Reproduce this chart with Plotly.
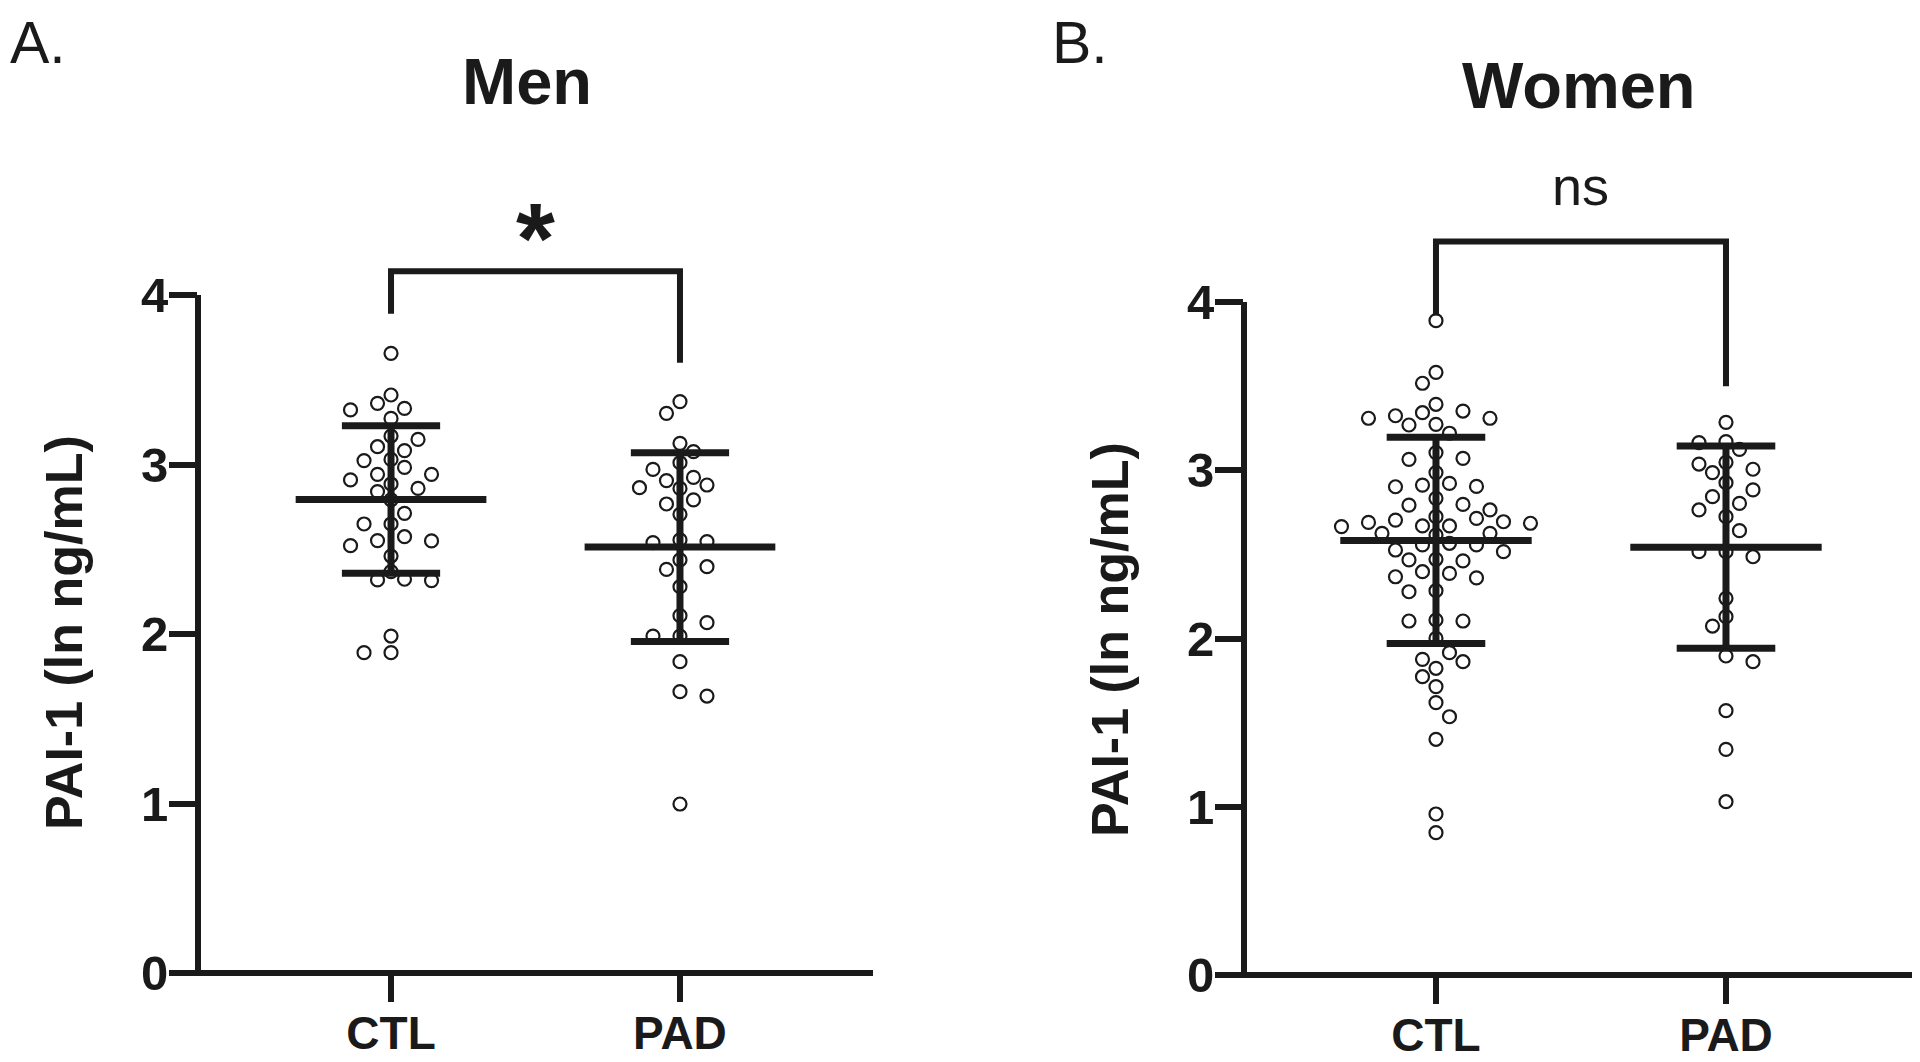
import numpy as np
import plotly.graph_objects as go

# ---------------- data ----------------
categories = ["CTL", "PAD"]
y_ticks = [0, 1, 2, 3, 4]

men_ctl = [3.656, 3.410, 3.331, 3.361, 3.322, 3.272, 3.148, 3.168, 3.105, 3.082,
           3.023, 3.030, 2.983, 2.942, 2.942, 2.909, 2.885, 2.859, 2.840, 2.791,
           2.712, 2.649, 2.649, 2.551, 2.549, 2.574, 2.521, 2.460, 2.368, 2.315,
           2.323, 2.319, 1.988, 1.890, 1.890]
men_pad = [3.371, 3.302, 3.125, 3.076, 3.011, 2.971, 2.924, 2.905, 2.863, 2.879,
           2.859, 2.791, 2.767, 2.706, 2.555, 2.539, 2.545, 2.437, 2.397, 2.381,
           2.279, 2.108, 2.067, 1.988, 1.988, 1.837, 1.660, 1.634, 0.997]
women_ctl = [3.889, 3.582, 3.517, 3.392, 3.342, 3.324, 3.309, 3.309, 3.352, 3.269,
             3.273, 3.220, 3.105, 3.065, 3.071, 2.986, 2.912, 2.902, 2.922, 2.904,
             2.833, 2.797, 2.793, 2.764, 2.724, 2.690, 2.704, 2.694, 2.669, 2.669,
             2.665, 2.685, 2.714, 2.625, 2.625, 2.615, 2.556, 2.566, 2.516, 2.526,
             2.556, 2.461, 2.467, 2.471, 2.397, 2.387, 2.367, 2.360, 2.284, 2.278,
             2.104, 2.104, 2.110, 2.001, 1.916, 1.876, 1.862, 1.823, 1.773, 1.714,
             1.619, 1.535, 1.401, 0.957, 0.846]
women_pad = [3.285, 3.170, 3.164, 3.124, 3.047, 3.037, 3.006, 2.986, 2.926, 2.883,
             2.843, 2.764, 2.803, 2.724, 2.641, 2.516, 2.486, 2.516, 2.239, 2.130,
             2.074, 1.896, 1.862, 1.571, 1.341, 1.030]

# mean and SD as drawn (CTL, PAD)
men_mean = [2.793, 2.513]
men_sd = [0.435, 0.557]
women_mean = [2.583, 2.543]
women_sd = [0.613, 0.601]

# significance brackets: top level, leg ends (CTL, PAD), label, label level
men_bracket_top = 4.14
men_bracket_ends = [3.89, 3.60]
men_sig = "*"
men_sig_level = 4.335
women_bracket_top = 4.36
women_bracket_ends = [3.92, 3.50]
women_sig = "ns"
women_sig_level = 4.69

y_title = "PAI-1 (ln ng/mL)"

# ---------------- style / layout ----------------
# page body has an 8px margin: design in screen pixels, convert to figure pixels
OFF = 8
W, H = 1920 - OFF, 1062 - OFF
INK = "#1a1a1a"
FONT = "Liberation Sans, Arial, Helvetica, sans-serif"
LW = 6


def fx(sx):
    return (sx - OFF) / W


def fy(sy):
    return 1 - (sy - OFF) / H


panels = [
    dict(title="Men", letter="A.", groups=[men_ctl, men_pad], mean=men_mean, sd=men_sd,
         top=men_bracket_top, ends=men_bracket_ends, sig=men_sig, sig_level=men_sig_level,
         sig_size=100, sig_bold=True,
         xpx=(198, 873), ypx=(973, 193.3), xr=(0.332, 2.668), yr=(0, 4.6),
         title_xy=(527, 82), letter_xy=(8, 8), ytitle_xy=(64, 633)),
    dict(title="Women", letter="B.", groups=[women_ctl, women_pad], mean=women_mean, sd=women_sd,
         top=women_bracket_top, ends=women_bracket_ends, sig=women_sig, sig_level=women_sig_level,
         sig_size=54, sig_bold=False,
         xpx=(1244, 1920), ypx=(975, 159), xr=(0.338, 2.669), yr=(0, 4.85),
         title_xy=(1579, 86), letter_xy=(1049.5, 8), ytitle_xy=(1110, 640)),
]


def swarm_offsets(vals, px_per_x, px_per_y, step_px=13.5, d_px=15.5):
    vals = np.asarray(vals, dtype=float)
    order = np.argsort(-vals, kind="stable")
    placed = []
    offs = np.zeros(len(vals))
    nl = nr = 0
    for i in order:
        y = vals[i] * px_per_y
        k = 0
        chosen = None
        while chosen is None:
            if k == 0:
                cands = [0.0]
            else:
                cands = [-k * step_px, k * step_px] if nl <= nr else [k * step_px, -k * step_px]
            for c in cands:
                if all((c - px) ** 2 + (y - py) ** 2 >= d_px ** 2 for px, py in placed):
                    chosen = c
                    break
            k += 1
        placed.append((chosen, y))
        if chosen < 0:
            nl += 1
        elif chosen > 0:
            nr += 1
        offs[i] = chosen / px_per_x
    return offs


fig = go.Figure()
annotations = []
shapes = []

for p_i, p in enumerate(panels):
    sfx = "" if p_i == 0 else str(p_i + 1)
    xname, yname = "x" + sfx, "y" + sfx
    xdom = [fx(p["xpx"][0]), min(1.0, fx(p["xpx"][1]))]
    ydom = [fy(p["ypx"][0]), fy(p["ypx"][1])]
    px_per_x = (p["xpx"][1] - p["xpx"][0]) / (p["xr"][1] - p["xr"][0])
    px_per_y = (p["ypx"][0] - p["ypx"][1]) / (p["yr"][1] - p["yr"][0])

    # dots
    for g_i, vals in enumerate(p["groups"]):
        xc = g_i + 1
        offs = swarm_offsets(vals, px_per_x, px_per_y)
        fig.add_trace(go.Scatter(
            x=xc + offs, y=vals, mode="markers", xaxis=xname, yaxis=yname,
            marker=dict(symbol="circle-open", size=13, color=INK, line=dict(width=2.2, color=INK)),
            showlegend=False, hoverinfo="y"))

    # mean +/- SD
    xs, ys = [], []
    for g_i in range(2):
        xc = g_i + 1
        m, s = p["mean"][g_i], p["sd"][g_i]
        xs += [xc - 0.33, xc + 0.33, None, xc - 0.17, xc + 0.17, None,
               xc - 0.17, xc + 0.17, None, xc, xc, None]
        ys += [m, m, None, m + s, m + s, None, m - s, m - s, None, m - s, m + s, None]
    fig.add_trace(go.Scatter(x=xs, y=ys, mode="lines", xaxis=xname, yaxis=yname,
                             line=dict(color=INK, width=7), showlegend=False, hoverinfo="skip"))

    # bracket
    fig.add_trace(go.Scatter(x=[1, 1, 2, 2], y=[p["ends"][0], p["top"], p["top"], p["ends"][1]],
                             mode="lines", xaxis=xname, yaxis=yname,
                             line=dict(color=INK, width=LW), showlegend=False, hoverinfo="skip"))

    axis_common = dict(showgrid=False, zeroline=False, showline=False, ticks="outside",
                       ticklen=28, tickwidth=LW, tickcolor=INK, automargin=False,
                       fixedrange=True)
    fig.update_layout(**{
        ("xaxis" + sfx): dict(domain=xdom, range=list(p["xr"]), tickvals=[1, 2],
                              ticktext=categories, anchor=yname, ticklabelstandoff=-8,
                              tickfont=dict(family=FONT, size=46, color=INK, weight="bold"),
                              **axis_common),
        ("yaxis" + sfx): dict(domain=ydom, range=list(p["yr"]), tickvals=y_ticks,
                              anchor=xname, ticklabelstandoff=-9,
                              tickfont=dict(family=FONT, size=49, color=INK, weight="bold"),
                              **axis_common),
    })

    # axis lines
    half = (LW / 2) / (p["xpx"][1] - p["xpx"][0])
    shapes.append(dict(type="line", xref=xname + " domain", yref=yname + " domain",
                       x0=-half, x1=1, y0=0, y1=0, line=dict(color=INK, width=LW)))
    shapes.append(dict(type="line", xref=xname + " domain", yref=yname,
                       x0=0, x1=0, y0=min(y_ticks), y1=max(y_ticks), line=dict(color=INK, width=LW)))

    # texts
    annotations.append(dict(text=p["sig"], x=1.5, y=p["sig_level"], xref=xname, yref=yname,
                            showarrow=False, xanchor="center", yanchor="middle",
                            font=dict(family=FONT, size=p["sig_size"], color=INK,
                                      weight="bold" if p["sig_bold"] else "normal")))
    annotations.append(dict(text=p["title"], x=fx(p["title_xy"][0]), y=fy(p["title_xy"][1]),
                            xref="paper", yref="paper", showarrow=False,
                            xanchor="center", yanchor="middle",
                            font=dict(family=FONT, size=65, color=INK, weight="bold")))
    annotations.append(dict(text=p["letter"], x=fx(p["letter_xy"][0]), y=fy(p["letter_xy"][1]),
                            xref="paper", yref="paper", showarrow=False,
                            xanchor="left", yanchor="top",
                            font=dict(family=FONT, size=59, color=INK)))
    annotations.append(dict(text=y_title, x=fx(p["ytitle_xy"][0]), y=fy(p["ytitle_xy"][1]),
                            xref="paper", yref="paper", showarrow=False, textangle=-90,
                            xanchor="center", yanchor="middle",
                            font=dict(family=FONT, size=52, color=INK, weight="bold")))

fig.update_layout(
    width=W, height=H, autosize=False,
    margin=dict(l=0, r=0, t=0, b=0, pad=0, autoexpand=False),
    paper_bgcolor="white", plot_bgcolor="white",
    showlegend=False,
    annotations=annotations, shapes=shapes,
    font=dict(family=FONT, color=INK),
)

fig.write_html("out.html")
